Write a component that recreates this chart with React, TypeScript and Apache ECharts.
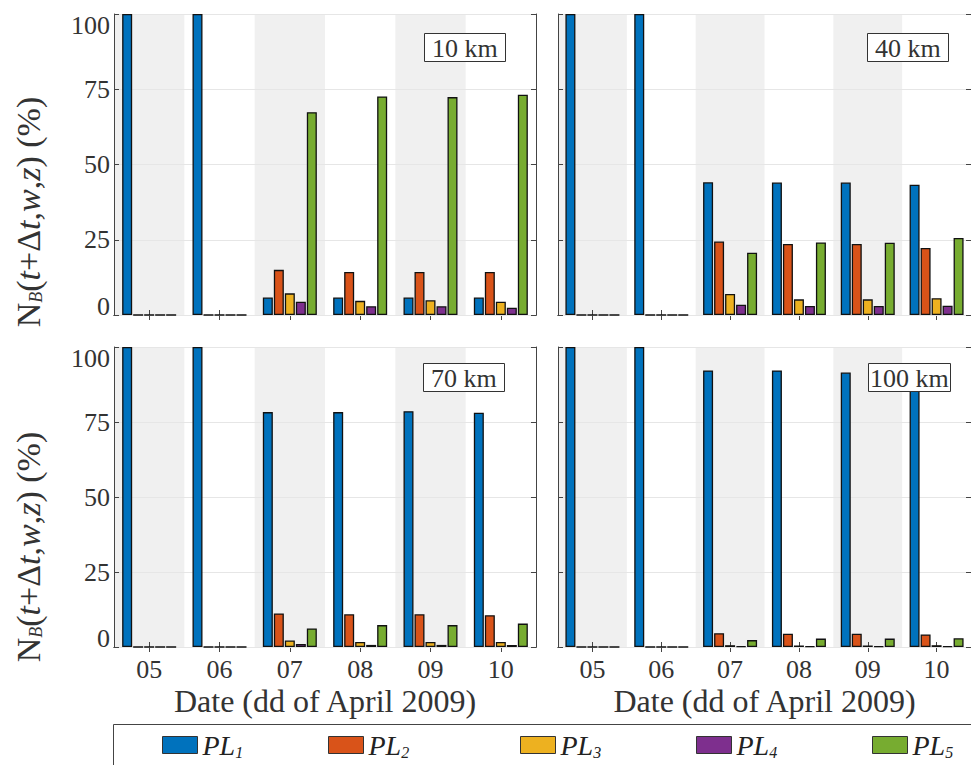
import React, { useEffect, useRef } from 'react';
import * as echarts from 'echarts';

const dates = ['05', '06', '07', '08', '09', '10'];
const seriesNames = ['PL1', 'PL2', 'PL3', 'PL4', 'PL5'];
const colors = ['#0072BD', '#D95319', '#EDB120', '#7E2F8E', '#77AC30'];
const panelLabels = ['10 km', '40 km', '70 km', '100 km'];
const yMin = 0;
const yMax = 100;
const yInterval = 25;

// rows: PL1..PL5, columns: dates 05..10
const values10km: number[][] = [
  [100, 100, 5.8, 5.8, 5.8, 5.8],
  [0, 0, 15.0, 14.3, 14.3, 14.3],
  [0, 0, 7.2, 4.7, 4.9, 4.4],
  [0, 0, 4.4, 2.9, 2.9, 2.4],
  [0, 0, 67.4, 72.6, 72.4, 73.2],
];
const values40km: number[][] = [
  [100, 100, 44.1, 44.0, 44.0, 43.3],
  [0, 0, 24.4, 23.6, 23.6, 22.3],
  [0, 0, 7.0, 5.2, 5.2, 5.6],
  [0, 0, 3.4, 3.0, 3.0, 3.1],
  [0, 0, 20.7, 24.1, 24.0, 25.6],
];
const values70km: number[][] = [
  [100, 100, 78.3, 78.3, 78.6, 78.1],
  [0, 0, 11.2, 10.9, 10.9, 10.6],
  [0, 0, 2.2, 1.7, 1.7, 1.7],
  [0, 0, 1.0, 0.7, 0.7, 0.7],
  [0, 0, 6.2, 7.3, 7.3, 7.8],
];
const values100km: number[][] = [
  [100, 100, 92.2, 92.2, 91.5, 91.5],
  [0, 0, 4.6, 4.4, 4.4, 4.2],
  [0, 0, 0.6, 0.5, 0.5, 0.6],
  [0, 0, 0.2, 0.2, 0.2, 0.2],
  [0, 0, 2.3, 2.8, 2.8, 2.9],
];
const panelValues = [values10km, values40km, values70km, values100km];

const FONT = 'Liberation Serif';
const TXT = '#333333';
const AXC = '#444444';

export default function App() {
  const ref = useRef<HTMLDivElement>(null);
  useEffect(() => {
    document.body.style.margin = '0';
    if (!ref.current) return;
    const chart = echarts.init(ref.current, undefined, { renderer: 'svg' });

    const grids = [
      { left: 114, top: 14, width: 422, height: 301 },
      { left: 558, top: 14, width: 422, height: 301 },
      { left: 114, top: 347, width: 422, height: 300 },
      { left: 558, top: 347, width: 422, height: 300 },
    ];
    const titlePos = [
      { left: 424, top: 33, pad: [2, 8, 1, 8] },
      { left: 867, top: 33, pad: [2, 8, 1, 8] },
      { left: 423, top: 363, pad: [2, 8, 1, 8] },
      { left: 868, top: 363, pad: [2, 2, 1, 2] },
    ];

    const xAxes: any[] = [];
    const yAxes: any[] = [];
    const series: any[] = [];

    grids.forEach((g, gi) => {
      const isBottom = gi >= 2;
      const isLeft = gi % 2 === 0;
      xAxes.push({
        type: 'category',
        gridIndex: gi,
        data: dates,
        position: 'bottom',
        z: 0,
        axisLine: { show: true, lineStyle: { color: AXC, width: 1 } },
        axisTick: { show: true, inside: true, alignWithLabel: true, length: 5, lineStyle: { color: AXC } },
        axisLabel: {
          show: isBottom,
          margin: 9,
          fontFamily: FONT,
          fontSize: 26,
          color: TXT,
        },
        splitLine: { show: false },
        name: isBottom ? 'Date (dd of April 2009)' : '',
        nameLocation: 'middle',
        nameGap: 38,
        nameTextStyle: { fontFamily: FONT, fontSize: 32, color: TXT },
      });
      xAxes.push({
        type: 'category',
        gridIndex: gi,
        data: dates,
        position: 'top',
        z: 0,
        axisLine: { show: true, lineStyle: { color: AXC, width: 1 } },
        axisTick: { show: true, inside: true, alignWithLabel: true, length: 5, lineStyle: { color: AXC } },
        axisLabel: { show: false },
        splitLine: { show: false },
        splitArea: { show: true, areaStyle: { color: ['#f0f0f0', 'rgba(255,255,255,0)'] } },
      });
      yAxes.push({
        type: 'value',
        gridIndex: gi,
        position: 'left',
        min: yMin,
        max: yMax,
        interval: yInterval,
        z: 1,
        axisLine: { show: true, lineStyle: { color: AXC, width: 1 } },
        axisTick: { show: true, inside: true, length: 5, lineStyle: { color: AXC } },
        axisLabel: {
          show: isLeft,
          margin: 4,
          fontFamily: FONT,
          fontSize: 26,
          color: TXT,
          formatter: (v: number) =>
            v === yMax ? `{t|${v}}` : v === yMin ? `{b|${v}}` : `{m|${v}}`,
          rich: {
            t: { fontFamily: FONT, fontSize: 26, color: TXT, padding: [22, 0, 0, 0] },
            b: { fontFamily: FONT, fontSize: 26, color: TXT, padding: [0, 0, 17, 0] },
            m: { fontFamily: FONT, fontSize: 26, color: TXT },
          },
        },
        splitLine: { show: true, lineStyle: { color: '#e6e6e6', width: 1 } },
      });
      yAxes.push({
        type: 'value',
        gridIndex: gi,
        position: 'right',
        min: yMin,
        max: yMax,
        interval: yInterval,
        z: 1,
        axisLine: { show: true, lineStyle: { color: AXC, width: 1 } },
        axisTick: { show: true, inside: true, length: 5, lineStyle: { color: AXC } },
        axisLabel: { show: false },
        splitLine: { show: false },
      });

      panelValues[gi].forEach((vals, si) => {
        series.push({
          type: 'bar',
          name: seriesNames[si],
          xAxisIndex: gi * 2,
          yAxisIndex: gi * 2,
          data: vals,
          barWidth: 10,
          barGap: '10%',
          itemStyle: { color: colors[si], borderColor: '#111111', borderWidth: 1.3 },
          emphasis: { disabled: true },
        });
      });
    });

    const titles = panelLabels.map((t, i) => ({
      text: t,
      left: titlePos[i].left,
      top: titlePos[i].top,
      padding: titlePos[i].pad,
      borderColor: '#333',
      borderWidth: 1,
      backgroundColor: '#ffffff',
      textStyle: { fontFamily: FONT, fontSize: 26, fontWeight: 'normal', color: TXT, lineHeight: 26 },
    }));

    const legendLefts = [162, 328, 520, 696, 872];
    const legends = seriesNames.map((n, i) => ({
      data: [n],
      left: legendLefts[i],
      top: 731,
      padding: 0,
      itemWidth: 35,
      itemHeight: 17,
      icon: 'rect',
      itemStyle: { borderColor: '#333', borderWidth: 1 },
      formatter: (name: string) => `{i|PL}{s|${name.slice(2)}}`,
      textStyle: {
        fontFamily: FONT,
        color: '#222',
        rich: {
          i: { fontFamily: FONT, fontStyle: 'italic', fontSize: 28, lineHeight: 30, color: '#222' },
          s: { fontFamily: FONT, fontStyle: 'italic', fontSize: 16, lineHeight: 11, verticalAlign: 'bottom', color: '#222' },
        },
      },
    }));

    const yLabelRich = {
      n: { fontFamily: FONT, fontSize: 34, lineHeight: 34, fill: TXT, color: TXT },
      i: { fontFamily: FONT, fontSize: 34, lineHeight: 34, fontStyle: 'italic', fill: TXT, color: TXT },
      sb: { fontFamily: FONT, fontSize: 18, lineHeight: 12, fontStyle: 'italic', verticalAlign: 'bottom', fill: TXT, color: TXT },
    };
    const yLabelText = '{n|N}{sb|B}{n|(}{i|t}{n|+Δ}{i|t}{n|,}{i|w}{n|,}{i|z}{n|) (%)}';

    chart.setOption({
      animation: false,
      backgroundColor: '#ffffff',
      title: titles,
      grid: grids.map((g) => ({ ...g, show: false, containLabel: false })),
      xAxis: xAxes,
      yAxis: yAxes,
      series,
      legend: legends,
      tooltip: { show: false },
      graphic: [
        {
          type: 'rect',
          shape: { x: 113.5, y: 724.5, width: 900, height: 100 },
          style: { fill: 'none', stroke: '#444', lineWidth: 1 },
          silent: true,
        },
        {
          type: 'text',
          x: 28,
          y: 212,
          rotation: Math.PI / 2,
          style: { text: yLabelText, rich: yLabelRich, align: 'center', verticalAlign: 'middle', fill: TXT },
          silent: true,
        },
        {
          type: 'text',
          x: 28,
          y: 547,
          rotation: Math.PI / 2,
          style: { text: yLabelText, rich: yLabelRich, align: 'center', verticalAlign: 'middle', fill: TXT },
          silent: true,
        },
      ],
    });
    return () => chart.dispose();
  }, []);
  return <div ref={ref} style={{ width: 971, height: 765, background: '#fff' }} />;
}
